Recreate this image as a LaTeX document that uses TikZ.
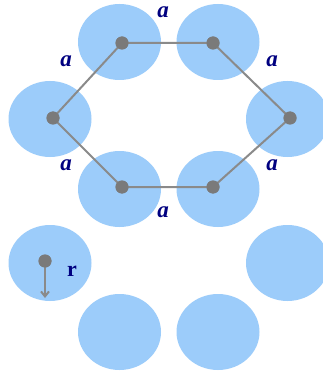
\documentclass[tikz,border=0pt]{standalone}
\usepackage{fontspec}
\setmainfont{Liberation Serif}
\usetikzlibrary{shapes.geometric,arrows.meta}
\definecolor{blob}{HTML}{9CCCFA}
\definecolor{dotgray}{HTML}{7A7A7A}
\definecolor{linegray}{HTML}{8A8A8A}
\definecolor{navy}{HTML}{000080}
\tikzset{
  blobnode/.style={ellipse,fill=blob,draw=none,minimum width=83pt,minimum height=76pt,inner sep=0pt},
  atom/.style={circle,fill=dotgray,draw=none,minimum size=13pt,inner sep=0pt},
  bond/.style={draw=linegray,line width=2pt},
  alabel/.style={text=navy,font=\fontsize{23}{23}\selectfont\bfseries\itshape,inner sep=0pt},
  rlabel/.style={text=navy,font=\fontsize{22}{22}\selectfont\bfseries,inner sep=0pt}
}
\begin{document}
\begin{tikzpicture}[x=1pt,y=-1pt]
\useasboundingbox (0,0) rectangle (322,374);
\fill[white] (0,0) rectangle (322,374);
% blobs of the hexagon
\node[blobnode] (b1) at (119.5,42) {};
\node[blobnode] (b2) at (218,42) {};
\node[blobnode] (b3) at (287.5,119) {};
\node[blobnode] (b4) at (218,189) {};
\node[blobnode] (b5) at (119.5,189) {};
\node[blobnode] (b6) at (50,119) {};
% lower blobs
\node[blobnode] (c1) at (50,263) {};
\node[blobnode] (c2) at (287.5,263) {};
\node[blobnode] (c3) at (119.5,332) {};
\node[blobnode] (c4) at (218,332) {};
% atoms
\node[atom] (a1) at (122,43) {};
\node[atom] (a2) at (213,43) {};
\node[atom] (a3) at (290,118) {};
\node[atom] (a4) at (213,187) {};
\node[atom] (a5) at (122,187) {};
\node[atom] (a6) at (53,118) {};
\draw[bond] (a1.center) -- (a2.center) -- (a3.center) -- (a4.center) -- (a5.center) -- (a6.center) -- cycle;
\foreach \n in {1,...,6} {\node[atom] at (a\n) {};}
% labels
\node[alabel] (l1) at (163,12) {a};
\node[alabel] (l2) at (66,61) {a};
\node[alabel] (l3) at (272,61) {a};
\node[alabel] (l4) at (66,165) {a};
\node[alabel] (l5) at (272,165) {a};
\node[alabel] (l6) at (163,212) {a};
% radius
\node[atom] (ra) at (45,261) {};
\coordinate (rend) at (45,298);
\draw[draw=linegray,line width=2pt,-{Straight Barb[length=5pt,width=8pt]}] (ra.center) -- (rend);
\node[atom] at (ra) {};
\node[rlabel] (rl) at (72,271) {r};
\end{tikzpicture}
\end{document}
